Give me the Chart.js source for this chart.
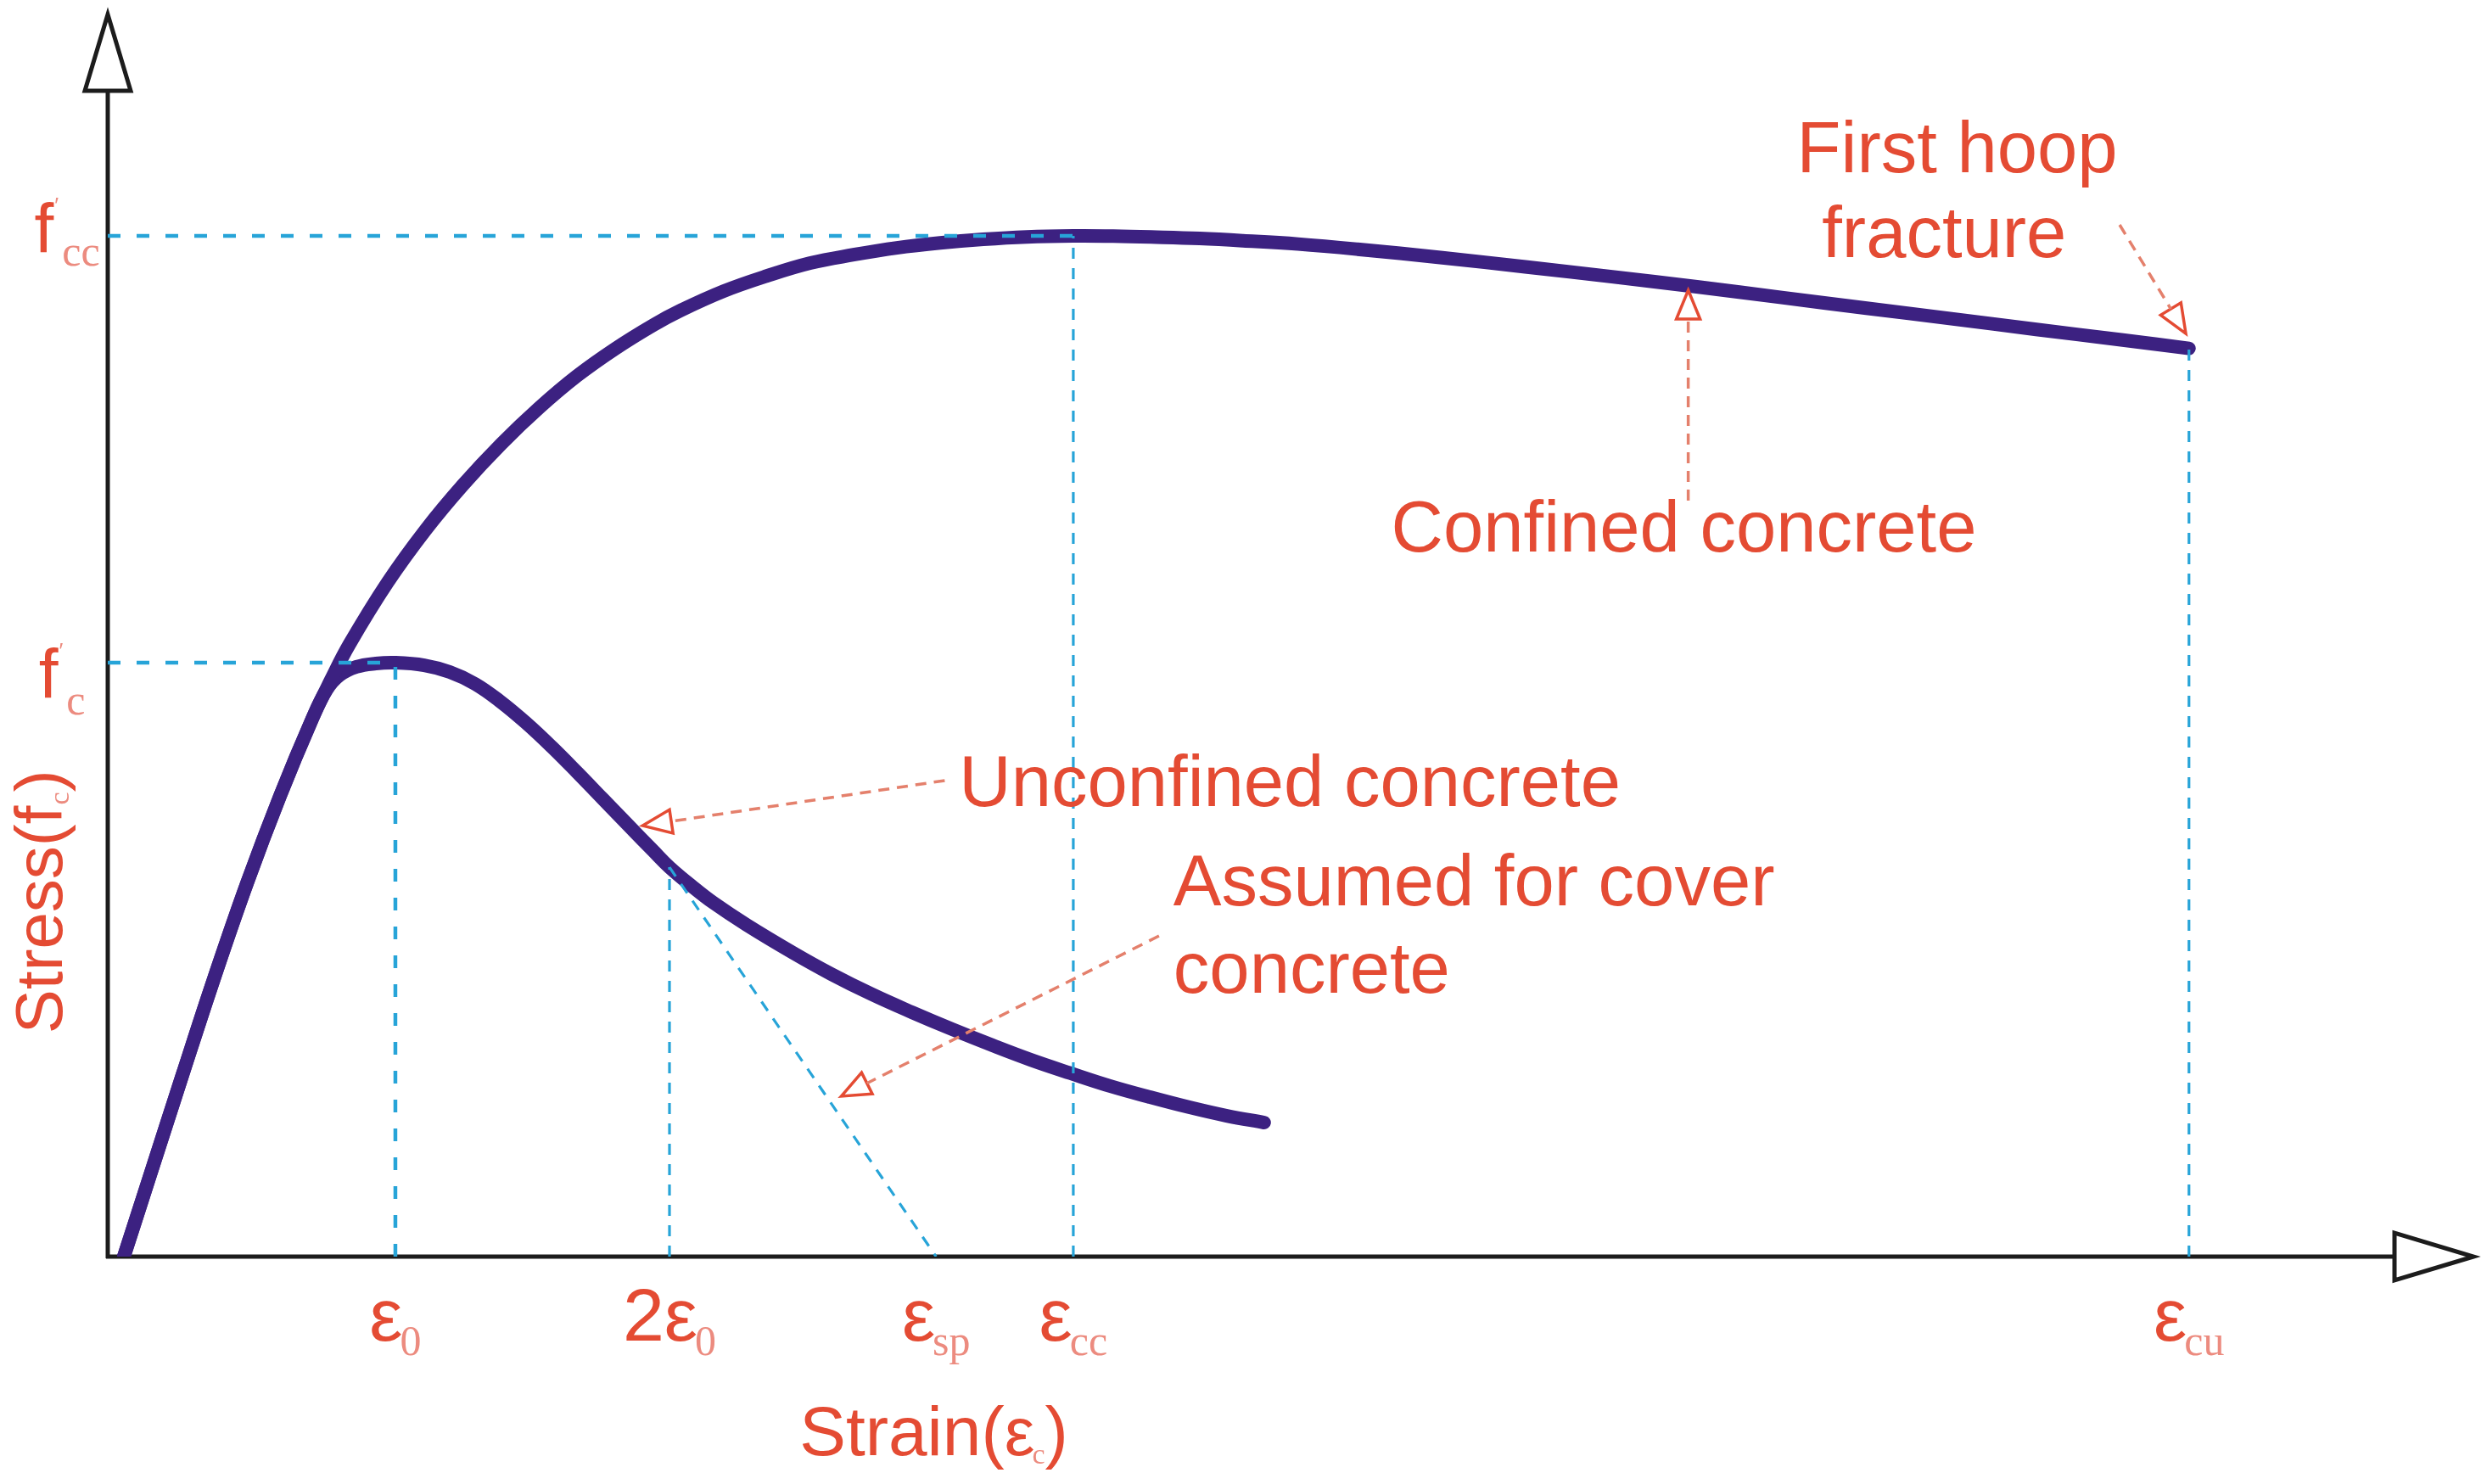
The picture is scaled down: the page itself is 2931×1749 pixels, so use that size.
<!DOCTYPE html>
<html><head><meta charset="utf-8">
<script src="https://cdn.jsdelivr.net/npm/chart.js@4.4.1/dist/chart.umd.min.js"></script>
<style>html,body{margin:0;padding:0;background:#fff;overflow:hidden}canvas{display:block}</style>
</head><body>
<canvas id="c" width="2931" height="1749" style="width:2931px;height:1749px"></canvas>
<script>
// ---- data (strain in 1/1000, stress in MPa) ----
const confinedStrain = [0.112,0.289,0.519,0.743,0.968,1.198,1.422,1.552,1.681,1.947,2.212,2.472,2.737,3.003,3.263,3.528,3.794,3.982,4.283,4.584,4.885,5.186,5.487,5.788,6.088,6.389,6.714,6.991,7.292,7.593,7.894,8.277,8.690,9.280,9.870,10.460,11.050,11.640,12.230,12.820,13.410,14.000,14.472];
const confinedStress = [0,3.99,9.17,14.14,18.86,23.27,27.17,29.14,30.94,34.07,36.73,39.00,41.06,42.90,44.49,45.86,47.06,47.79,48.77,49.54,50.19,50.61,50.96,51.21,51.39,51.51,51.56,51.55,51.50,51.43,51.32,51.15,50.89,50.46,49.99,49.50,48.99,48.45,47.91,47.38,46.84,46.31,45.88];
const unconfinedStrain = [0.112,0.289,0.519,0.743,0.968,1.198,1.422,1.522,1.611,1.729,1.864,2.000,2.201,2.378,2.555,2.732,2.909,3.086,3.263,3.440,3.617,3.794,3.906,4.059,4.212,4.442,4.767,5.032,5.316,5.593,5.870,6.153,6.419,6.696,6.973,7.245,7.522,7.782,8.041];
const unconfinedStress = [0,3.99,9.17,14.14,18.86,23.27,27.17,28.63,29.36,29.79,29.96,30.00,29.87,29.53,28.93,28.03,26.96,25.76,24.47,23.14,21.81,20.49,19.67,18.73,17.87,16.76,15.34,14.27,13.24,12.34,11.49,10.67,9.94,9.26,8.61,8.06,7.54,7.11,6.77];
const tickStrain = [2.00, 3.906, 5.76, 6.714, 14.472];
const tickMain = ['ε', '2ε', 'ε', 'ε', 'ε'];
const tickSub = ['0', '0', 'sp', 'cc', 'cu'];
const stressLevels = [30.0, 51.56];
const stressSub = ['c', 'cc'];
const spallStartStress = 19.67;
const hoopFractureStress = 45.88;
const axisMaxStrain = 16.45;
const axisMaxStress = 62.75;

// ---- annotation texts and arrows (placed in data units) ----
const noteText = ['First hoop', 'fracture', 'Confined concrete', 'Unconfined concrete', 'Assumed for cover', 'concrete'];
const noteX = [12.86, 12.77, 10.96, 5.92, 7.41, 7.41];
const noteY = [54.78, 50.49, 35.62, 22.76, 17.75, 13.33];
const noteAlign = ['center', 'center', 'center', 'left', 'left', 'left'];
const arrowFrom = [[13.99, 52.12], [10.99, 38.19], [5.82, 24.05], [7.31, 16.20]];
const arrowTo = [[14.45, 46.63], [10.99, 48.82], [3.72, 21.77], [5.10, 8.10]];

// ---- styles ----
const RED = '#e44b33', PINK = '#ec8b7f', CURVE = '#3c2181', BLUE = '#27a4d8', AXIS = '#1c1c1c', NOTE = '#e4806c';
const SANS = '"Liberation Sans", Arial, sans-serif', SERIF = '"Liberation Serif", "Times New Roman", serif';

const eps0 = tickStrain[0], eps2 = tickStrain[1], epsSp = tickStrain[2], epsCc = tickStrain[3], epsCu = tickStrain[4];
const fc = stressLevels[0], fcc = stressLevels[1];
const pts = (xs, ys) => xs.map((x, i) => ({x: x, y: ys[i]}));

function guide(data, thick) {
  return {data: data, borderColor: BLUE, borderWidth: thick ? 4.5 : 3.2, borderDash: thick ? [15, 19] : [13, 11],
          pointRadius: 0, tension: 0, fill: false, order: 0};
}
function curve(xs, ys) {
  return {data: pts(xs, ys), borderColor: CURVE, borderWidth: 16, tension: 0.4,
          pointRadius: 0, fill: false, borderCapStyle: 'round', borderJoinStyle: 'round', order: 2};
}

function drawRich(ctx, x, y, parts, align) {
  let w = 0;
  parts.forEach(p => { ctx.font = p.font; p.w = ctx.measureText(p.t).width + (p.dx || 0); w += p.w; });
  let cx = align === 'center' ? x - w / 2 : (align === 'right' ? x - w : x);
  ctx.textAlign = 'left'; ctx.textBaseline = 'alphabetic';
  parts.forEach(p => { ctx.font = p.font; ctx.fillStyle = p.color; ctx.fillText(p.t, cx + (p.dx || 0), y + (p.dy || 0)); cx += p.w; });
}

function hollowHead(ctx, tx, ty, ang, len, hw) {
  const bx = tx - Math.cos(ang) * len, by = ty - Math.sin(ang) * len;
  const nx = -Math.sin(ang) * hw, ny = Math.cos(ang) * hw;
  ctx.beginPath();
  ctx.moveTo(tx, ty); ctx.lineTo(bx + nx, by + ny); ctx.lineTo(bx - nx, by - ny); ctx.closePath();
  ctx.fillStyle = '#fff'; ctx.fill(); ctx.stroke();
  return [bx, by];
}

const bgPlugin = {
  id: 'bg',
  beforeDraw(chart) { const c = chart.ctx; c.save(); c.fillStyle = '#fff'; c.fillRect(0, 0, chart.width, chart.height); c.restore(); }
};

const axesPlugin = {
  id: 'axes',
  beforeDatasetsDraw(chart) {
    const c = chart.ctx, sx = chart.scales.x, sy = chart.scales.y;
    const x0 = sx.getPixelForValue(0), y0 = sy.getPixelForValue(0);
    const xt = sx.getPixelForValue(axisMaxStrain), yt = sy.getPixelForValue(axisMaxStress);
    c.save();
    c.strokeStyle = AXIS; c.lineWidth = 5; c.lineJoin = 'miter';
    c.beginPath(); c.moveTo(x0, y0 + 2); c.lineTo(x0, yt + 90); c.stroke();
    c.beginPath(); c.moveTo(x0 - 2, y0); c.lineTo(xt - 93, y0); c.stroke();
    hollowHead(c, x0, yt, -Math.PI / 2, 90, 27);
    hollowHead(c, xt, y0, 0, 93, 28);
    c.restore();
  }
};

const labelPlugin = {
  id: 'labels',
  afterDraw(chart) {
    const c = chart.ctx, sx = chart.scales.x, sy = chart.scales.y;
    const X = v => sx.getPixelForValue(v), Y = v => sy.getPixelForValue(v);
    c.save();
    // annotation arrows
    c.lineWidth = 3.5;
    arrowFrom.forEach((f, i) => {
      const x1 = X(f[0]), y1 = Y(f[1]), x2 = X(arrowTo[i][0]), y2 = Y(arrowTo[i][1]);
      const ang = Math.atan2(y2 - y1, x2 - x1);
      c.strokeStyle = RED; c.setLineDash([]);
      const b = hollowHead(c, x2, y2, ang, 34, 14);
      c.strokeStyle = NOTE; c.setLineDash([13, 9]);
      c.beginPath(); c.moveTo(x1, y1); c.lineTo(b[0], b[1]); c.stroke();
    });
    c.setLineDash([]);
    // annotation texts
    noteText.forEach((t, i) => {
      c.font = '85px ' + SANS; c.fillStyle = RED; c.textAlign = noteAlign[i]; c.textBaseline = 'alphabetic';
      c.fillText(t, X(noteX[i]), Y(noteY[i]));
    });
    // strain tick labels
    tickStrain.forEach((v, i) => {
      drawRich(c, X(v), Y(-4.24), [
        {t: tickMain[i], font: '88px ' + SANS, color: RED},
        {t: tickSub[i], font: '50px ' + SERIF, color: PINK, dy: 17, dx: -3}
      ], 'center');
    });
    // stress tick labels f'c, f'cc
    const fLab = [[-0.48, 28.25, 20], [-0.51, 50.75, 16]];
    stressLevels.forEach((v, i) => {
      drawRich(c, X(fLab[i][0]), Y(fLab[i][1]), [
        {t: 'f', font: '82px ' + SANS, color: RED},
        {t: '\u2032', font: '26px ' + SANS, color: PINK, dy: -46, dx: 1},
        {t: stressSub[i], font: '50px ' + SERIF, color: PINK, dy: fLab[i][2], dx: 4}
      ], 'left');
    });
    // x axis title
    drawRich(c, X(4.81), Y(-10.03), [
      {t: 'Strain(', font: '82px ' + SANS, color: RED},
      {t: 'ε', font: '80px ' + SANS, color: RED},
      {t: 'c', font: '34px ' + SERIF, color: PINK, dy: 10, dx: -3},
      {t: ')', font: '82px ' + SANS, color: RED}
    ], 'left');
    // y axis title (rotated)
    c.translate(X(-0.32), Y(17.92));
    c.rotate(-Math.PI / 2);
    drawRich(c, 0, 0, [
      {t: 'Stress(f', font: '78px ' + SANS, color: RED},
      {t: 'c', font: '34px ' + SERIF, color: PINK, dy: 8, dx: 1},
      {t: ')', font: '78px ' + SANS, color: RED}
    ], 'center');
    c.restore();
  }
};

new Chart(document.getElementById('c'), {
  type: 'line',
  data: {
    datasets: [
      curve(confinedStrain, confinedStress),
      curve(unconfinedStrain, unconfinedStress),
      guide([{x: 0, y: fcc}, {x: epsCc, y: fcc}], true),
      guide([{x: 0, y: fc}, {x: eps0, y: fc}], true),
      guide([{x: eps0, y: 0}, {x: eps0, y: fc}], true),
      guide([{x: eps2, y: 0}, {x: eps2, y: spallStartStress}], false),
      guide([{x: epsCc, y: 0}, {x: epsCc, y: fcc}], false),
      guide([{x: epsCu, y: 0}, {x: epsCu, y: hoopFractureStress}], false),
      guide([{x: eps2, y: spallStartStress}, {x: epsSp, y: 0}], false)
    ]
  },
  options: {
    responsive: false, animation: false, devicePixelRatio: 1,
    layout: {padding: {left: 127, right: 16, top: 17, bottom: 268}},
    scales: {
      x: {type: 'linear', min: 0, max: axisMaxStrain, display: false},
      y: {type: 'linear', min: 0, max: axisMaxStress, display: false}
    },
    plugins: {legend: {display: false}, tooltip: {enabled: false}},
    elements: {point: {radius: 0}}
  },
  plugins: [bgPlugin, axesPlugin, labelPlugin]
});
</script>
</body></html>
